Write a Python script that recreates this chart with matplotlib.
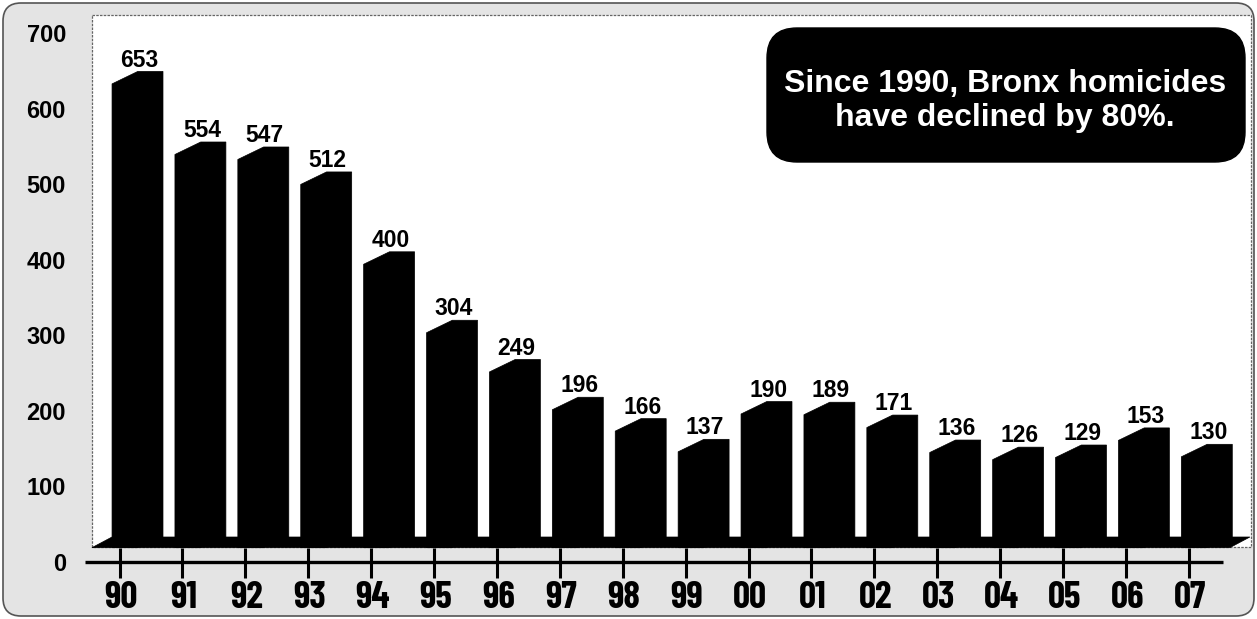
import matplotlib
matplotlib.use('Agg')
import matplotlib.pyplot as plt
from matplotlib.patches import Polygon, FancyBboxPatch, Rectangle

# ---- data ----
years = ["90", "91", "92", "93", "94", "95", "96", "97", "98", "99",
         "00", "01", "02", "03", "04", "05", "06", "07"]
homicides = [653, 554, 547, 512, 400, 304, 249, 196, 166, 137,
             190, 189, 171, 136, 126, 129, 153, 130]
y_ticks = [0, 100, 200, 300, 400, 500, 600, 700]
callout = "Since 1990, Bronx homicides\nhave declined by 80%."

W, H, DPI = 1257, 619, 100
fig = plt.figure(figsize=(W / DPI, H / DPI), dpi=DPI)
fig.patch.set_facecolor('white')

BOLD = ['Liberation Sans', 'DejaVu Sans']
NARROW = ['Liberation Sans Narrow', 'Barlow Condensed', 'DejaVu Sans']

# ---- decoration layer (pixel space) ----
bg = fig.add_axes([0, 0, 1, 1], zorder=0)
bg.set_xlim(0, W)
bg.set_ylim(H, 0)
bg.axis('off')
bg.add_patch(FancyBboxPatch((3, 3), W - 6, H - 6,
                            boxstyle="round,pad=0,rounding_size=18",
                            fc='#e4e4e4', ec='#555555', lw=1.2))
bg.add_patch(Rectangle((92, 15), 1251 - 92, 547 - 15, fc='white',
                       ec='#666666', lw=0.9, ls=(0, (2, 1))))
bg.add_patch(FancyBboxPatch((767, 28), 1245 - 767, 162 - 28,
                            boxstyle="round,pad=0,rounding_size=30",
                            fc='black', ec='black'))
bg.text(1005, 101, callout, ha='center', va='center', color='white',
        fontsize=23, fontweight='bold', family=BOLD, linespacing=1.15,
        multialignment='center')

# ---- bar layer (x = category index, y = homicides) ----
ax = fig.add_axes([0, 0, 1, 1], zorder=1)
ax.patch.set_alpha(0)
PX, X0 = 62.9, 137.2          # pixels per category, pixel of x=0
VS, V0 = 0.713, 537           # pixels per homicide, pixel row of value 0
ax.set_xlim(-X0 / PX, (W - X0) / PX)
ax.set_ylim((V0 - H) / VS, V0 / VS)
ax.axis('off')

FRONT_W, DEPTH_X, DEPTH_Y = 0.40, 0.41, 17.5
FLOOR_DX, FLOOR_DY = 0.32, 15
n = len(homicides)

# floor
back_l, back_r = -FRONT_W, (n - 1) + 0.69
ax.add_patch(Polygon([(back_l - FLOOR_DX, -FLOOR_DY), (back_l, 0),
                      (back_r, 0), (back_r - FLOOR_DX, -FLOOR_DY)],
                     closed=True, fc='black', ec='black', lw=0.5))

for i, v in enumerate(homicides):
    xl = i - FRONT_W
    pts = [(xl, -FLOOR_DY), (xl, v - DEPTH_Y), (xl + DEPTH_X, v),
           (xl + FRONT_W + DEPTH_X, v), (xl + FRONT_W + DEPTH_X, 0),
           (xl + FRONT_W, -FLOOR_DY)]
    ax.add_patch(Polygon(pts, closed=True, fc='black', ec='black', lw=0.5))
    ax.annotate(str(v), (i + 0.03, v), xytext=(0, 10),
                textcoords='offset points', ha='center',
                va='center_baseline', fontsize=16.5, fontweight='bold',
                family=BOLD, color='black')

# ---- axis layer (y scale of the printed tick labels) ----
ax2 = ax.twinx()
ax2.set_ylim((562 - H) / 0.7557, 562 / 0.7557)
ax2.axis('off')

ax2.plot([-0.83, n - 1 + 0.26], [0, 0], color='black', lw=2.4,
         solid_capstyle='butt')
for i, lab in enumerate(years):
    t = i - 0.28
    ax2.plot([t, t], [18.5, -21], color='black', lw=2.2,
             solid_capstyle='butt')
    ax2.text(t + 0.02, -43, lab, ha='center', va='center_baseline',
             fontsize=27, fontweight='bold', family=NARROW)

for val in y_ticks:
    ax2.text(-1.132, val, str(val), ha='right', va='center_baseline',
             fontsize=17, fontweight='bold', family=BOLD)

fig.savefig('out.png', dpi=DPI, facecolor=fig.get_facecolor())
